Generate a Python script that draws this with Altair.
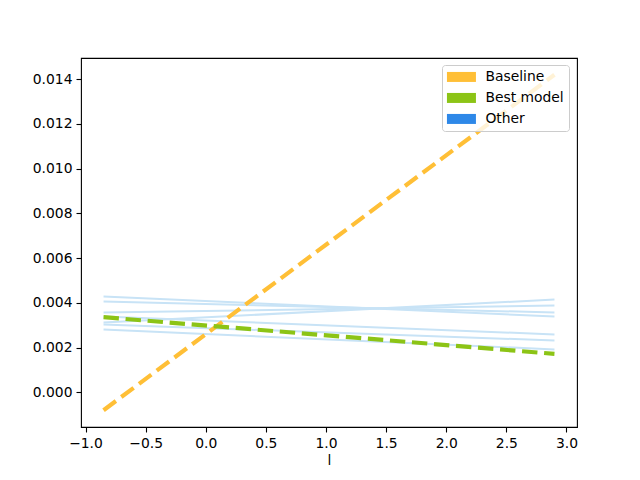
import altair as alt
import pandas as pd

# x extent of every line
x_ends = [-0.85, 2.9]

# main series (left value, right value)
baseline = [-0.0008, 0.0142]
best_model = [0.00336, 0.00172]

# "Other" models: left and right end values
other_left = [0.00428, 0.00406, 0.00357, 0.00312, 0.00339, 0.00303, 0.00281]
other_right = [0.00339, 0.00357, 0.00388, 0.00415, 0.00259, 0.00232, 0.00192]

x_ticks = [-1.0, -0.5, 0.0, 0.5, 1.0, 1.5, 2.0, 2.5, 3.0]
y_ticks = [0.0, 0.002, 0.004, 0.006, 0.008, 0.010, 0.012, 0.014]

series_names = ["Baseline", "Best model", "Other"]
series_colors = ["#FFBF36", "#8CC416", "#2E88E8"]

rows = []
for i, (a, b) in enumerate(zip(other_left, other_right)):
    rows.append({"id": f"o{i}", "x": x_ends[0], "y": a})
    rows.append({"id": f"o{i}", "x": x_ends[1], "y": b})
others_df = pd.DataFrame(rows)

main_rows = []
for name, vals in [("Baseline", baseline), ("Best model", best_model)]:
    for xv, yv in zip(x_ends, vals):
        main_rows.append({"series": name, "x": xv, "y": yv})
main_df = pd.DataFrame(main_rows)

FONT = "DejaVu Sans"
FS = 13.89
RECT = "M-5.8,-2H5.8V2H-5.8Z"

x_scale = alt.Scale(domain=[-1.0375, 3.0875], nice=False, zero=False)
y_scale = alt.Scale(domain=[-0.00155, 0.01495], nice=False, zero=False)
color_scale = alt.Scale(domain=series_names, range=series_colors)

x_axis = alt.Axis(values=x_ticks, format=".1f", title="l", grid=False, domain=False,
                  tickColor="black", tickWidth=1.1, tickSize=5, labelPadding=4,
                  labelFont=FONT, labelFontSize=FS, labelColor="black",
                  titleFont=FONT, titleFontSize=FS, titleFontWeight="normal",
                  titleColor="black", titlePadding=4, labelFlush=False)
y_axis = alt.Axis(values=y_ticks, format=".3f", title=None, grid=False, domain=False,
                  tickColor="black", tickWidth=1.1, tickSize=5, labelPadding=4,
                  labelFont=FONT, labelFontSize=FS, labelColor="black", labelFlush=False)

# invisible layer that only carries the patch-style legend
legend_layer = alt.Chart(main_df).mark_point(
    filled=True, shape=RECT, opacity=0, size=25
).encode(
    x=alt.X("x:Q", scale=x_scale, axis=x_axis),
    y=alt.Y("y:Q", scale=y_scale, axis=y_axis),
    color=alt.Color(
        "series:N", scale=color_scale, sort=series_names,
        legend=alt.Legend(
            title=None, orient="none", legendX=361, legendY=7,
            symbolType=RECT, symbolSize=25, symbolStrokeWidth=0,
            symbolOpacity=1, symbolOffset=7.5,
            labelFont=FONT, labelFontSize=FS, labelColor="black",
            labelOffset=17, rowPadding=6, padding=5,
            fillColor="rgba(255,255,255,0.8)", strokeColor="#cccccc",
            cornerRadius=3,
        ),
    ),
)

others = alt.Chart(others_df).mark_line(
    color="#C8E3F6", strokeWidth=2
).encode(
    x=alt.X("x:Q", scale=x_scale),
    y=alt.Y("y:Q", scale=y_scale),
    detail="id:N",
)

main = alt.Chart(main_df).mark_line(
    strokeWidth=4.17, strokeDash=[15.4, 6.7]
).encode(
    x=alt.X("x:Q", scale=x_scale),
    y=alt.Y("y:Q", scale=y_scale),
    color=alt.Color("series:N", scale=color_scale, legend=None),
)

chart = alt.layer(legend_layer, others, main).properties(
    width=496, height=369, background="white",
    padding={"left": 73, "top": 50, "right": 10, "bottom": 40},
    autosize=alt.AutoSizeParams(type="none"),
).configure_view(stroke="black", strokeWidth=1.1)

chart.save("out.html", embed_options={"renderer": "svg", "actions": False})
